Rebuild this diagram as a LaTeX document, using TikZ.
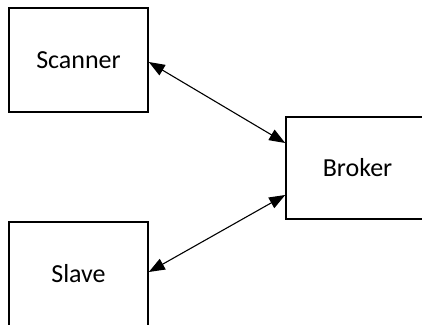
\documentclass[tikz,border=0pt]{standalone}
\usepackage{fontspec}
\setmainfont{Carlito}
\usetikzlibrary{arrows.meta}

\begin{document}
\begin{tikzpicture}[x=1pt,y=-1pt,
	block/.style={fill=white, draw=black, line width=1.6pt, shape=rectangle, minimum width=139pt, minimum height=104pt, font=\fontsize{26}{31}\selectfont},
	link/.style={line width=1.1pt, {Triangle[length=16pt,width=12pt]}-{Triangle[length=16pt,width=12pt]}}]
	\useasboundingbox (0, 0) rectangle (422, 324);
	\node [block] (scanner) at (78.5, 60) {Scanner};
	\node [block, minimum width=143pt, minimum height=102pt] (broker) at (357.5, 168) {Broker};
	\node [block] (slave) at (78.5, 274) {Slave};
	
	\draw [link] ([yshift=-2pt]scanner.east) to ([yshift=25pt]broker.west);
	\draw [link] ([yshift=2pt]slave.east) to ([yshift=-27pt]broker.west);
\end{tikzpicture}
\end{document}
